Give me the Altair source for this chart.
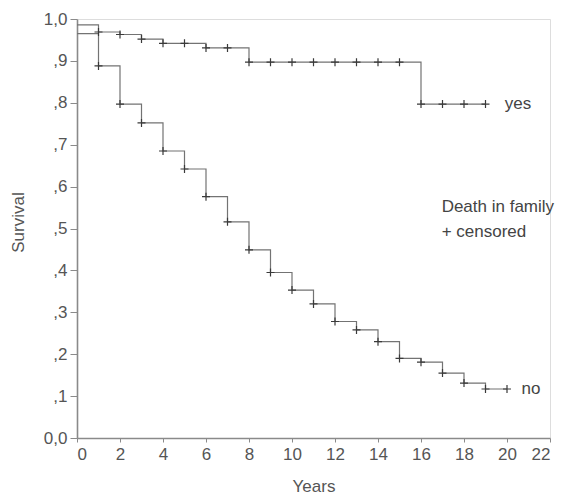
import altair as alt
import pandas as pd

years_yes = list(range(0, 20))
surv_yes = [0.986, 0.969, 0.963, 0.952, 0.942, 0.942, 0.931, 0.931, 0.897, 0.897,
            0.897, 0.897, 0.897, 0.897, 0.897, 0.897, 0.797, 0.797, 0.797, 0.797]
years_no = list(range(0, 21))
surv_no = [0.965, 0.888, 0.797, 0.752, 0.685, 0.642, 0.576, 0.516, 0.449, 0.395,
           0.353, 0.320, 0.278, 0.258, 0.230, 0.190, 0.181, 0.155, 0.131, 0.117, 0.117]

group_labels = ["yes", "no"]
label_x = [19.9, 20.68]
label_y = [0.797, 0.117]
legend_lines = ["Death in family", "+ censored"]
legend_x = [16.96, 16.96]
legend_y = [0.540, 0.480]

x_ticks = list(range(0, 23, 2))
y_ticks = [0.0, 0.1, 0.2, 0.3, 0.4, 0.5, 0.6, 0.7, 0.8, 0.9, 1.0]

df = pd.concat([
    pd.DataFrame({"Years": years_yes, "Survival": surv_yes, "group": "yes"}),
    pd.DataFrame({"Years": years_no, "Survival": surv_no, "group": "no"}),
])
cens = df[df["Years"] > 0]
labels = pd.DataFrame({"x": label_x, "y": label_y, "t": group_labels})
legend = pd.DataFrame({"x": legend_x, "y": legend_y, "t": legend_lines})

FONT = "Liberation Sans"
TXT = "#555555"
FS = 17

xscale = alt.Scale(domain=[0, 22], nice=False, zero=False)
yscale = alt.Scale(domain=[0, 1], nice=False)

x_axis = alt.Axis(values=x_ticks, grid=False, title="Years", labelFont=FONT,
                  labelFontSize=FS, labelColor=TXT, titleFont=FONT, titleFontSize=FS,
                  titleFontWeight="normal", titleColor=TXT, domainColor="#8a8a8a",
                  domainWidth=1.6, tickColor="#8a8a8a", tickSize=4, labelPadding=4,
                  titleY=48, titleBaseline="middle")
y_axis = alt.Axis(values=y_ticks, grid=False, title="Survival", labelFont=FONT,
                  labelFontSize=FS, labelColor=TXT, titleFont=FONT, titleFontSize=FS,
                  titleFontWeight="normal", titleColor=TXT, domainColor="#8a8a8a",
                  domainWidth=1.6, tickColor="#8a8a8a", tickSize=7, labelPadding=3,
                  labelExpr="datum.value == 0 ? '0,0' : datum.value == 1 ? '1,0' : ',' + format(datum.value * 10, '.0f')",
                  titleX=-59, titleY=203, titleAngle=-90, titleBaseline="middle",
                  titleAlign="center")

lines = alt.Chart(df).mark_line(interpolate="step-after", color="#737373", strokeWidth=1.2).encode(
    x=alt.X("Years:Q", scale=xscale, axis=x_axis),
    y=alt.Y("Survival:Q", scale=yscale, axis=y_axis),
    detail="group:N",
)

marks = alt.Chart(cens).mark_point(shape="M-1,0L1,0M0,-1L0,1", size=64, filled=False,
                                   color="#3a3a3a", strokeWidth=1.2, opacity=1).encode(
    x=alt.X("Years:Q", scale=xscale),
    y=alt.Y("Survival:Q", scale=yscale),
)

group_text = alt.Chart(labels).mark_text(align="left", baseline="middle", font=FONT,
                                         fontSize=FS, color="#444444").encode(
    x=alt.X("x:Q", scale=xscale), y=alt.Y("y:Q", scale=yscale), text="t:N")

legend_text = alt.Chart(legend).mark_text(align="left", baseline="alphabetic", font=FONT,
                                          fontSize=FS, color="#444444").encode(
    x=alt.X("x:Q", scale=xscale), y=alt.Y("y:Q", scale=yscale), text="t:N")

chart = (lines + marks + group_text + legend_text).properties(
    width=473, height=419,
    autosize=alt.AutoSizeParams(type="none"),
    padding={"left": 69, "top": 11, "right": 7, "bottom": 56},
).configure_view(stroke=None).configure(background="white")

chart.save("out.html", embed_options={"renderer": "svg", "actions": False})
